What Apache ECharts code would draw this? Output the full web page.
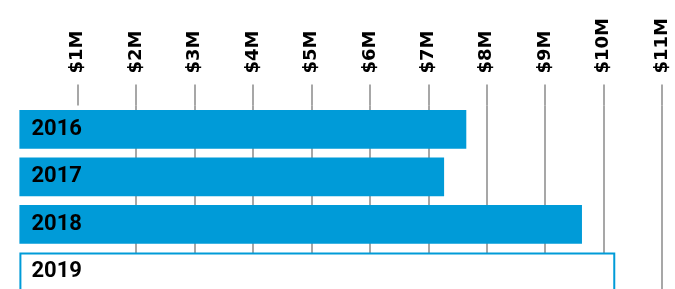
<!DOCTYPE html>
<html>
<head>
<meta charset="utf-8">
<script src="https://cdn.jsdelivr.net/npm/echarts@6/dist/echarts.min.js"></script>
<style>
html,body{margin:0;padding:0;background:#fff;overflow:hidden;}
#chart{width:675px;height:300px;}
</style>
</head>
<body>
<div id="chart"></div>
<script>
const categories = ['2016', '2017', '2018', '2019'];
const values = [7.65, 7.27, 9.63, 10.2];
const tickValues = [1, 2, 3, 4, 5, 6, 7, 8, 9, 10, 11];
const tickLabels = ['$1M', '$2M', '$3M', '$4M', '$5M', '$6M', '$7M', '$8M', '$9M', '$10M', '$11M'];

const BLUE = '#009bd8';
const GRID = '#8a8a8a';

const chart = echarts.init(document.getElementById('chart'), null, {renderer: 'canvas'});

const seriesData = values.map((v, i) => {
  const last = i === values.length - 1;
  return {
    value: v,
    name: categories[i],
    itemStyle: last
      ? {color: '#ffffff', borderColor: BLUE, borderWidth: 2}
      : {color: BLUE, borderWidth: 0}
  };
});

chart.setOption({
  animation: false,
  backgroundColor: '#ffffff',
  grid: {left: 19.4, right: 13, top: 105.6, bottom: 4.4, containLabel: false},
  xAxis: {
    type: 'value',
    position: 'top',
    min: 0,
    max: 11,
    interval: 1,
    axisLine: {show: false},
    axisTick: {
      show: true,
      customValues: tickValues,
      length: 21,
      lineStyle: {color: GRID, width: 1.5}
    },
    splitLine: {
      show: true,
      showMinLine: false,
      lineStyle: {color: GRID, width: 1.5}
    },
    axisLabel: {
      customValues: tickValues,
      rotate: -90,
      margin: 32,
      color: '#000',
      fontFamily: 'DejaVu Sans',
      fontWeight: 'bold',
      fontSize: 18,
      formatter: function (v) {
        const idx = tickValues.indexOf(v);
        return idx >= 0 ? tickLabels[idx] : '';
      }
    }
  },
  yAxis: {
    type: 'category',
    inverse: true,
    data: categories,
    axisLine: {show: false},
    axisTick: {show: false},
    axisLabel: {show: false},
    splitLine: {show: false}
  },
  series: [{
    type: 'bar',
    data: seriesData,
    barWidth: 38.7,
    label: {
      show: true,
      position: 'insideLeft',
      distance: 12,
      formatter: '{b}',
      color: '#000',
      fontFamily: 'Roboto',
      fontWeight: 'bold',
      fontSize: 22
    }
  }]
});
</script>
</body>
</html>
